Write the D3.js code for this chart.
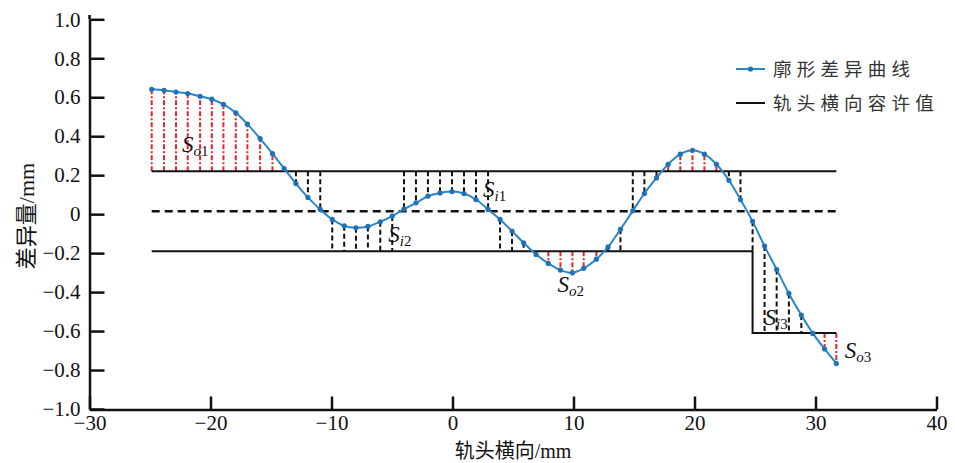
<!DOCTYPE html>
<html><head><meta charset="utf-8">
<script src="https://cdn.jsdelivr.net/npm/d3@7/dist/d3.min.js"></script>
<style>
body{margin:0;background:#fff;}
svg{display:block;}
.serif{font-family:"Liberation Serif","DejaVu Serif",serif;}
.cjk{font-family:"Noto Sans CJK SC","Noto Sans CJK JP",sans-serif;}
</style>
</head><body>
<svg id="chart" width="955" height="463"></svg>
<script>
// ---- data ----
const xs = [-24.86,-23.84,-22.85,-21.88,-20.86,-19.89,-18.93,-17.91,-16.95,-15.90,-14.88,-13.91,-12.94,-11.95,-10.93,-9.94,-8.95,-7.98,-6.99,-5.97,-4.98,-4.01,-3.02,-2.03,-1.03,-0.04,0.95,1.94,2.94,3.93,4.92,5.88,6.91,7.92,8.92,9.91,10.84,11.89,12.86,13.88,14.90,15.86,16.86,17.82,18.83,19.83,20.82,21.81,22.84,23.80,24.80,25.79,26.79,27.80,28.83,29.78,30.75,31.72];
const diffs = [0.641,0.636,0.627,0.619,0.605,0.590,0.563,0.520,0.462,0.388,0.311,0.234,0.157,0.086,0.024,-0.027,-0.060,-0.070,-0.063,-0.039,-0.010,0.026,0.058,0.092,0.109,0.116,0.106,0.075,0.024,-0.027,-0.087,-0.147,-0.207,-0.253,-0.287,-0.301,-0.278,-0.231,-0.168,-0.078,0.017,0.106,0.186,0.256,0.308,0.328,0.308,0.256,0.174,0.075,-0.037,-0.164,-0.284,-0.407,-0.518,-0.612,-0.692,-0.766];
const tolSegStart = [-24.86, 24.80];
const tolSegEnd = [24.80, 31.72];
const tolUpper = [0.22, 0.22];
const tolLower = [-0.19, -0.61];
const xTicks = [-30,-20,-10,0,10,20,30,40];
const yTicks = [1.0,0.8,0.6,0.4,0.2,0,-0.2,-0.4,-0.6,-0.8,-1.0];
const regionNames = ["o","i","i","o","i","o"];
const regionNums = ["1","1","2","2","3","3"];
const regionX = [-22.35, 2.52, -5.31, 8.67, 25.79, 32.41];
const regionY = [0.318, 0.087, -0.144, -0.400, -0.569, -0.738];
const legendLabels = ["廓形差异曲线","轨头横向容许值"];

// ---- layout ----
const svg = d3.select("#chart");
const x = d3.scaleLinear().domain([-30,40]).range([89.5,936.5]);
const y = d3.scaleLinear().domain([-1,1]).range([409,19.3]);
const blue = "#2b86c6", red = "#e8232b";
const fmtY = d => d===0 ? "0" : d3.format(".1f")(d).replace("-","\u2212");
const fmtX = d => String(d).replace("-","\u2212");

const midVal = (tolUpper[0] + tolLower[0]) / 2;
function segIndex(v){ return v <= tolSegEnd[0] ? 0 : 1; }

// drop lines
const drops = svg.append("g");
xs.forEach((xv,i) => {
  const v = diffs[i], s = segIndex(xv);
  const up = tolUpper[s], lo = tolLower[s];
  let y1, y2, col, dash;
  if (v > up) { y1 = up; y2 = v; col = red; dash = "5,2,2,2"; }
  else if (v < lo) { y1 = lo; y2 = v; col = red; dash = "5,2,2,2"; }
  else if (v >= midVal) { y1 = up; y2 = v; col = "#111"; dash = "5,3"; }
  else { y1 = v; y2 = lo; col = "#111"; dash = "5,3"; }
  drops.append("line").attr("x1",x(xv)).attr("x2",x(xv))
    .attr("y1",y(y1)).attr("y2",y(y2))
    .attr("stroke",col).attr("stroke-width",2).attr("stroke-dasharray",dash);
});

// tolerance lines
const upperPts = tolSegStart.map((s,i)=>[s,tolUpper[i]]).concat([[tolSegEnd[1],tolUpper[1]]]);
const lowerPts = tolSegStart.map((s,i)=>[s,tolLower[i]]).concat([[tolSegEnd[1],tolLower[1]]]);
const stepLine = d3.line().x(d=>x(d[0])).y(d=>y(d[1])).curve(d3.curveStepAfter);
svg.append("path").attr("d",stepLine(upperPts)).attr("fill","none").attr("stroke","#111").attr("stroke-width",2);
svg.append("path").attr("d",stepLine(lowerPts)).attr("fill","none").attr("stroke","#111").attr("stroke-width",2);
svg.append("line").attr("x1",x(tolSegStart[0])).attr("x2",x(tolSegEnd[1]))
  .attr("y1",y(midVal)).attr("y2",y(midVal))
  .attr("stroke","#111").attr("stroke-width",2.5).attr("stroke-dasharray","8,5");

// curve
const pts = xs.map((xv,i)=>[xv,diffs[i]]);
const curve = d3.line().x(d=>x(d[0])).y(d=>y(d[1])).curve(d3.curveCatmullRom);
svg.append("path").attr("d",curve(pts)).attr("fill","none").attr("stroke",blue).attr("stroke-width",2);
svg.append("g").selectAll("circle").data(pts).join("circle")
  .attr("cx",d=>x(d[0])).attr("cy",d=>y(d[1])).attr("r",2.6).attr("fill","#1f72b8");

// region labels
regionX.forEach((rx,i)=>{
  const t = svg.append("text").attr("class","serif").attr("x",x(rx)).attr("y",y(regionY[i]))
    .style("font-size","23px").attr("fill","#111");
  t.append("tspan").style("font-style","italic").text("S");
  t.append("tspan").style("font-style","italic").style("font-size","15px").attr("dy",4).text(regionNames[i]);
  t.append("tspan").style("font-size","15px").text(regionNums[i]);
});

// axes
const yAxis = d3.axisLeft(y).tickValues(yTicks).tickFormat(fmtY).tickSize(-15).tickSizeOuter(0).tickPadding(9);
const gy = svg.append("g").attr("transform","translate(89.5,0)").call(yAxis);
const xAxis = d3.axisBottom(x).tickValues(xTicks).tickFormat(fmtX).tickSize(-13).tickSizeOuter(0).tickPadding(6);
const gx = svg.append("g").attr("transform","translate(0,409.5)").call(xAxis);
[gx,gy].forEach(g=>{
  g.attr("font-family",null).attr("font-size",null);
  g.select(".domain").attr("stroke","#111").attr("stroke-width",2.5);
  g.selectAll(".tick line").attr("stroke","#111").attr("stroke-width",2.5);
  g.selectAll(".tick text").attr("class","serif").style("font-size","21px").attr("fill","#111");
});
gy.append("line").attr("x1",0).attr("x2",0).attr("y1",15).attr("y2",y(1)).attr("stroke","#111").attr("stroke-width",2.5);

// axis titles
const xt = svg.append("text").attr("x",513).attr("y",458).attr("text-anchor","middle").attr("fill","#111").style("font-size","20px");
xt.append("tspan").attr("class","cjk").text("轨头横向");
xt.append("tspan").attr("class","serif").text("/mm");
const yt = svg.append("text").attr("transform","translate(34,216) rotate(-90)").attr("text-anchor","middle").attr("fill","#111").style("font-size","22px");
yt.append("tspan").attr("class","cjk").text("差异量");
yt.append("tspan").attr("class","serif").text("/mm");

// legend
const lg = svg.append("g");
legendLabels.forEach((lab,i)=>{
  const ly = 69 + i*34;
  lg.append("line").attr("x1",736).attr("x2",765).attr("y1",ly).attr("y2",ly)
    .attr("stroke", i===0?blue:"#111").attr("stroke-width",2);
  if(i===0) lg.append("circle").attr("cx",750.5).attr("cy",ly).attr("r",2.6).attr("fill","#1f72b8");
  lg.append("text").attr("class","cjk").attr("x",773).attr("y",ly+6.5).style("font-size","18.5px")
    .attr("letter-spacing",5.2).attr("fill","#333").text(lab);
});
</script>
</body></html>
